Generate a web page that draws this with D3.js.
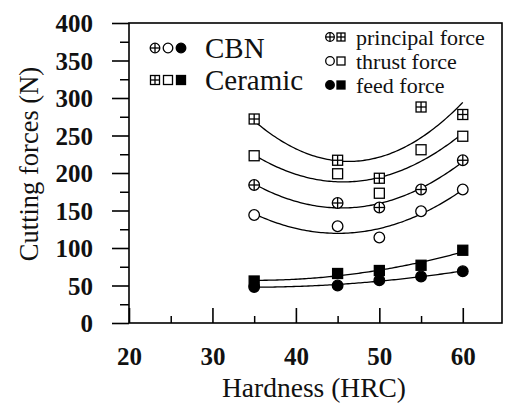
<!DOCTYPE html>
<html>
<head>
<meta charset="utf-8">
<script src="https://cdn.jsdelivr.net/npm/d3@7"></script>
<style>
  html, body { margin: 0; padding: 0; background: #fff; }
  svg { display: block; }
  text { font-family: "Liberation Serif", "Times New Roman", serif; fill: #111; }
</style>
</head>
<body>
<svg id="chart" width="506" height="406"></svg>
<script>
// Workpiece hardness (HRC) at which forces were measured
const hardness = [35, 45, 50, 55, 60];

// Cutting force components (N) — CBN tool
const cbnPrincipal = [184, 160, 154, 178, 217];
const cbnThrust    = [144, 129, 114, 149, 178];
const cbnFeed      = [48, 50, 57, 62, 69];

// Cutting force components (N) — ceramic tool
const ceramicPrincipal = [272, 217, 193, 288, 278];
const ceramicThrust    = [223, 199, 173, 231, 249];
const ceramicFeed      = [56, 66, 70, 77, 97];

// Axis ticks
const xMajor = [20, 30, 40, 50, 60];
const xMinor = [25, 35, 45, 55];
const yMajor = [0, 50, 100, 150, 200, 250, 300, 350, 400];
const yMinor = [25, 75, 125, 175, 225, 275, 325, 375];

const svg = d3.select("#chart");
const plotLeft = 129, plotRight = 502, plotTop = 23, plotBottom = 323;

const x = d3.scaleLinear().domain([20, 64.7]).range([plotLeft, plotRight]);
const y = d3.scaleLinear().domain([0, 400]).range([plotBottom, plotTop]);

const ink = "#000";

// Frame
svg.append("rect")
  .attr("x", plotLeft).attr("y", plotTop)
  .attr("width", plotRight - plotLeft).attr("height", plotBottom - plotTop)
  .attr("fill", "none").attr("stroke", ink).attr("stroke-width", 1.6);

// Y axis: outward ticks
const yAxisMajor = d3.axisLeft(y).tickValues(yMajor).tickSize(17).tickPadding(19)
  .tickFormat(d3.format("d"));
const gy = svg.append("g").attr("transform", `translate(${plotLeft},0)`).call(yAxisMajor);
gy.select(".domain").remove();
gy.selectAll("line").attr("stroke", ink).attr("stroke-width", 1.6);
gy.selectAll("text").attr("font-size", 25).attr("font-weight", "bold").attr("fill", ink)
  .attr("dy", "0.34em");

const gyMinor = svg.append("g").attr("transform", `translate(${plotLeft},0)`)
  .call(d3.axisLeft(y).tickValues(yMinor).tickSize(9).tickFormat(""));
gyMinor.select(".domain").remove();
gyMinor.selectAll("line").attr("stroke", ink).attr("stroke-width", 1.5);

// X axis: inward ticks, labels below
const gx = svg.append("g").attr("transform", `translate(0,${plotBottom})`)
  .call(d3.axisBottom(x).tickValues(xMajor).tickSizeInner(-15).tickSizeOuter(0)
    .tickPadding(24).tickFormat(d3.format("d")));
gx.select(".domain").remove();
gx.selectAll("line").attr("stroke", ink).attr("stroke-width", 1.6);
gx.selectAll("text").attr("font-size", 25).attr("font-weight", "bold").attr("fill", ink);

const gxMinor = svg.append("g").attr("transform", `translate(0,${plotBottom})`)
  .call(d3.axisBottom(x).tickValues(xMinor).tickSizeInner(-7).tickSizeOuter(0).tickFormat(""));
gxMinor.select(".domain").remove();
gxMinor.selectAll("line").attr("stroke", ink).attr("stroke-width", 1.5);

// Axis titles
svg.append("text")
  .attr("x", 314).attr("y", 397)
  .attr("text-anchor", "middle").attr("font-size", 27.5).attr("fill", ink)
  .text("Hardness (HRC)");

svg.append("text")
  .attr("transform", "translate(38,164) rotate(-90)")
  .attr("text-anchor", "middle").attr("font-size", 26.5).attr("fill", ink)
  .text("Cutting forces (N)");

// Second-order least-squares trend line through a series
function quadFit(xs, ys) {
  const s = [0, 0, 0, 0, 0], t = [0, 0, 0];
  xs.forEach((xv, i) => {
    const u = xv - 50;
    let p = 1;
    for (let k = 0; k < 5; k++) { s[k] += p; if (k < 3) t[k] += p * ys[i]; p *= u; }
  });
  // Solve the 3x3 normal equations (Cramer's rule)
  const M = [[s[0], s[1], s[2]], [s[1], s[2], s[3]], [s[2], s[3], s[4]]];
  const det = m => m[0][0]*(m[1][1]*m[2][2]-m[1][2]*m[2][1])
                 - m[0][1]*(m[1][0]*m[2][2]-m[1][2]*m[2][0])
                 + m[0][2]*(m[1][0]*m[2][1]-m[1][1]*m[2][0]);
  const D = det(M);
  const coef = [0, 1, 2].map(c => det(M.map((row, r) => row.map((v, j) => j === c ? t[r] : v))) / D);
  return xv => { const u = xv - 50; return coef[0] + coef[1]*u + coef[2]*u*u; };
}

const series = [
  { values: ceramicPrincipal, marker: "squarePlus" },
  { values: ceramicThrust,    marker: "square" },
  { values: ceramicFeed,      marker: "squareFilled" },
  { values: cbnPrincipal,     marker: "circlePlus" },
  { values: cbnThrust,        marker: "circle" },
  { values: cbnFeed,          marker: "circleFilled" }
];

const line = d3.line().x(d => x(d[0])).y(d => y(d[1]));

series.forEach(s => {
  const f = quadFit(hardness, s.values);
  const x0 = d3.min(hardness), x1 = d3.max(hardness);
  const pts = d3.range(0, 101).map(i => { const xv = x0 + (x1 - x0) * i / 100; return [xv, f(xv)]; });
  svg.append("path").datum(pts)
    .attr("d", line)
    .attr("fill", "none").attr("stroke", ink).attr("stroke-width", 1.3);
});

// Marker drawing
function drawMarker(g, type, cx, cy, size) {
  const h = size / 2;
  const sw = 1.3;
  if (type.startsWith("square")) {
    g.append("rect").attr("x", cx - h).attr("y", cy - h).attr("width", size).attr("height", size)
      .attr("fill", type === "squareFilled" ? ink : "#fff").attr("stroke", ink).attr("stroke-width", sw);
    if (type === "squarePlus") {
      g.append("line").attr("x1", cx - h).attr("x2", cx + h).attr("y1", cy).attr("y2", cy)
        .attr("stroke", ink).attr("stroke-width", sw);
      g.append("line").attr("x1", cx).attr("x2", cx).attr("y1", cy - h).attr("y2", cy + h)
        .attr("stroke", ink).attr("stroke-width", sw);
    }
  } else {
    const r = h + 0.3;
    g.append("circle").attr("cx", cx).attr("cy", cy).attr("r", r)
      .attr("fill", type === "circleFilled" ? ink : "#fff").attr("stroke", ink).attr("stroke-width", sw);
    if (type === "circlePlus") {
      g.append("line").attr("x1", cx - r).attr("x2", cx + r).attr("y1", cy).attr("y2", cy)
        .attr("stroke", ink).attr("stroke-width", sw);
      g.append("line").attr("x1", cx).attr("x2", cx).attr("y1", cy - r).attr("y2", cy + r)
        .attr("stroke", ink).attr("stroke-width", sw);
    }
  }
}

const gm = svg.append("g");
series.forEach(s => {
  s.values.forEach((v, i) => drawMarker(gm, s.marker, x(hardness[i]), y(v), 10));
});

// Legend: tool material
const lg = svg.append("g");
drawMarker(lg, "circlePlus", 155, 48, 9);
drawMarker(lg, "circle", 168, 48, 9);
drawMarker(lg, "circleFilled", 181, 48, 9);
lg.append("text").attr("x", 205).attr("y", 58).attr("font-size", 29).attr("fill", ink).text("CBN");
drawMarker(lg, "squarePlus", 155, 80, 9);
drawMarker(lg, "square", 168, 80, 9);
drawMarker(lg, "squareFilled", 181, 80, 9);
lg.append("text").attr("x", 205).attr("y", 90).attr("font-size", 29).attr("fill", ink).text("Ceramic");

// Legend: force component
drawMarker(lg, "circlePlus", 330, 37, 8);
drawMarker(lg, "squarePlus", 341, 37, 8);
lg.append("text").attr("x", 356).attr("y", 45).attr("font-size", 22).attr("fill", ink).text("principal force");
drawMarker(lg, "circle", 330, 61, 8);
drawMarker(lg, "square", 341, 61, 8);
lg.append("text").attr("x", 356).attr("y", 69).attr("font-size", 22).attr("fill", ink).text("thrust force");
drawMarker(lg, "circleFilled", 330, 85, 8);
drawMarker(lg, "squareFilled", 341, 85, 8);
lg.append("text").attr("x", 356).attr("y", 93).attr("font-size", 22).attr("fill", ink).text("feed force");
</script>
</body>
</html>
